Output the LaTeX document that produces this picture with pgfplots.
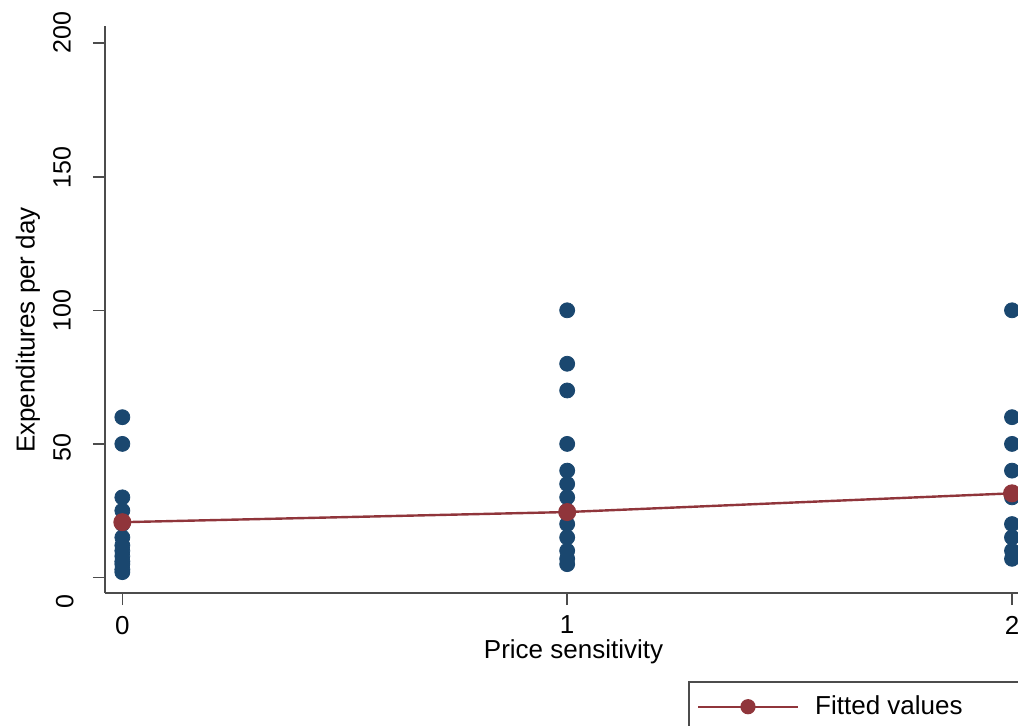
\documentclass[border=0pt]{standalone}
\usepackage{fontspec}
\setmainfont{Liberation Sans}
\usepackage{pgfplots}
\pgfplotsset{compat=1.18}
\definecolor{sblue}{HTML}{1A476F}
\definecolor{sred}{HTML}{90353B}
\begin{document}
\begin{tikzpicture}
\begin{scope}
\clip (0,0) rectangle (509pt,362.5pt);
\begin{axis}[
  at={(52.5pt,66pt)}, anchor=south west,
  scale only axis, width=466.85pt, height=283.5pt,
  xmin=-0.039, xmax=2.06, ymin=-5.8, ymax=206.4,
  axis lines*=left,
  axis line style={line width=0.8pt, color=black!70},
  tick align=outside, major tick length=6pt,
  tick style={line width=0.8pt, color=black!70},
  xtick={0,1,2}, xticklabels={0,1,2},
  ytick={0,50,100,150,200}, yticklabels={},
  extra y ticks={48.8,100,153.5,204.1},
  extra y tick labels={50,100,150,200},
  extra y tick style={major tick length=0pt},
  yticklabel style={rotate=90, anchor=south, font=\fontsize{12.5}{14}\selectfont},
  yticklabel shift=13.5pt,
  xticklabel style={font=\fontsize{13}{14}\selectfont, yshift=-2pt},
  xlabel={Price sensitivity},
  ylabel={Expenditures per day},
  xlabel style={at={(axis description cs:0.5018,-0.104)}, anchor=center, font=\fontsize{13}{15}\selectfont},
  ylabel style={at={(axis description cs:-0.0825,0.4638)}, rotate=0, anchor=center, font=\fontsize{13}{15}\selectfont},
  legend style={at={(axis description cs:0.6244,-0.1552)}, anchor=north west,
    draw=black!70, line width=0.8pt, font=\fontsize{13}{15}\selectfont,
    inner xsep=4pt, inner ysep=5pt},
  legend image code/.code={\draw[#1, mark indices={2}, mark size=3.2pt] plot coordinates {(0pt,0pt) (25pt,0pt) (50pt,0pt)};},
]
\addplot[only marks, mark=*, mark size=3.75pt, color=sblue, forget plot] coordinates {
 (0,60) (0,50) (0,30) (0,25) (0,20) (0,15) (0,12) (0,10) (0,8) (0,6) (0,5) (0,3) (0,2)
 (1,100) (1,80) (1,70) (1,50) (1,40) (1,35) (1,30) (1,25) (1,20) (1,15) (1,10) (1,7) (1,5)
 (2,100) (2,60) (2,50) (2,40) (2,30) (2,20) (2,15) (2,10) (2,7)
};
\addplot[color=sred, line width=1.2pt, mark=*, mark size=3.9pt] coordinates {
 (0,20.7) (1,24.5) (2,31.5)
};
\addlegendentry{\hspace*{6pt}\makebox[150pt][l]{Fitted values}}
\end{axis}
\end{scope}
\node[rotate=90, anchor=south, font=\fontsize{12.5}{14}\selectfont, inner sep=0pt] at (37pt,61.5pt) {0};
\pgfresetboundingbox
\useasboundingbox (0,0) rectangle (509pt,362.5pt);
\end{tikzpicture}
\end{document}
